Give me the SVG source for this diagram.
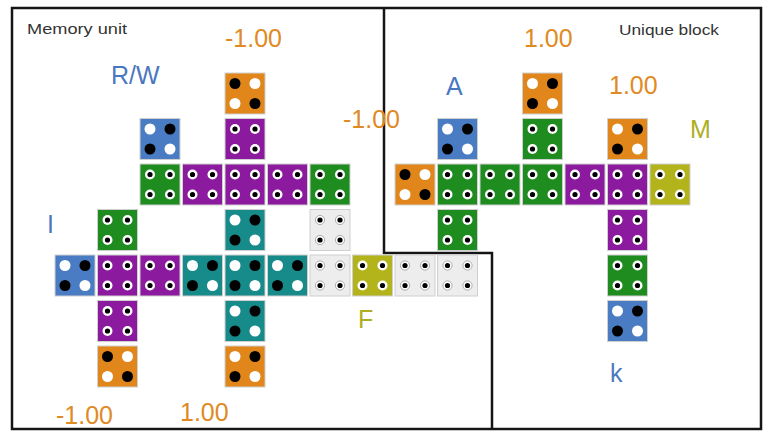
<svg xmlns="http://www.w3.org/2000/svg" xmlns:xlink="http://www.w3.org/1999/xlink" width="763" height="431" viewBox="0 0 763 431">
<style>
.t{stroke:#cfcfcf;stroke-width:1}
.or{fill:#E0861A}.bl{fill:#4A7CC4}.pu{fill:#8C1A9E}.gr{fill:#1F8C1F}.te{fill:#178A8A}.ye{fill:#B3B31C}.wh{fill:#EDEDED}
.lab{font-family:"Liberation Sans",Arial,sans-serif;font-size:25px}
.o{fill:#E08A24}.b{fill:#4A78C0}.y{fill:#AEAE22}
.cap{font-family:"Liberation Sans",Arial,sans-serif;font-size:15.5px;fill:#333}
.frame{fill:none;stroke:#151515;stroke-width:2.5}
</style>
<defs>
<g id="dA"><circle cx="-10" cy="-10" r="5.5" fill="#000"/><circle cx="10" cy="-10" r="5.5" fill="#fff"/><circle cx="-10" cy="10" r="5.5" fill="#fff"/><circle cx="10" cy="10" r="5.5" fill="#000"/></g>
<g id="dB"><circle cx="-10" cy="-10" r="5.5" fill="#fff"/><circle cx="10" cy="-10" r="5.5" fill="#000"/><circle cx="-10" cy="10" r="5.5" fill="#000"/><circle cx="10" cy="10" r="5.5" fill="#fff"/></g>
<g id="ring"><circle r="5" fill="#fff"/><circle r="2.6" fill="#000"/></g>
<g id="dR"><use href="#ring" x="-10" y="-10"/><use href="#ring" x="10" y="-10"/><use href="#ring" x="-10" y="10"/><use href="#ring" x="10" y="10"/></g>
<g id="wring"><circle r="4.6" fill="#fff" stroke="#9a9a9a" stroke-width="0.8"/><circle r="2.6" fill="#000"/></g>
<g id="dW"><use href="#wring" x="-10" y="-10"/><use href="#wring" x="10" y="-10"/><use href="#wring" x="-10" y="10"/><use href="#wring" x="10" y="10"/></g>
<rect id="tile" x="-20" y="-20.5" width="40" height="41"/>
</defs>

<g id="frames">
<rect class="frame" x="12" y="8" width="749" height="421"/>
<polyline class="frame" points="384,8 384,253 492,253 492,429"/>
</g>

<g id="memory-unit">
<g id="m-r0c4" transform="translate(245,93.5)"><use href="#tile" class="t or"/><use href="#dA"/></g>
<g id="m-r1c2" transform="translate(160,139)"><use href="#tile" class="t bl"/><use href="#dB"/></g>
<g id="m-r1c4" transform="translate(245,139)"><use href="#tile" class="t pu"/><use href="#dR"/></g>
<g id="m-r2c2" transform="translate(160,184.5)"><use href="#tile" class="t gr"/><use href="#dR"/></g>
<g id="m-r2c3" transform="translate(202.5,184.5)"><use href="#tile" class="t pu"/><use href="#dR"/></g>
<g id="m-r2c4" transform="translate(245,184.5)"><use href="#tile" class="t pu"/><use href="#dR"/></g>
<g id="m-r2c5" transform="translate(287.5,184.5)"><use href="#tile" class="t pu"/><use href="#dR"/></g>
<g id="m-r2c6" transform="translate(330,184.5)"><use href="#tile" class="t gr"/><use href="#dR"/></g>
<g id="m-r3c1" transform="translate(117.5,230)"><use href="#tile" class="t gr"/><use href="#dR"/></g>
<g id="m-r3c4" transform="translate(245,230)"><use href="#tile" class="t te"/><use href="#dB"/></g>
<g id="m-r3c6" transform="translate(330,230)"><use href="#tile" class="t wh"/><use href="#dW"/></g>
<g id="m-r4c0" transform="translate(75,275.5)"><use href="#tile" class="t bl"/><use href="#dB"/></g>
<g id="m-r4c1" transform="translate(117.5,275.5)"><use href="#tile" class="t pu"/><use href="#dR"/></g>
<g id="m-r4c2" transform="translate(160,275.5)"><use href="#tile" class="t pu"/><use href="#dR"/></g>
<g id="m-r4c3" transform="translate(202.5,275.5)"><use href="#tile" class="t te"/><use href="#dB"/></g>
<g id="m-r4c4" transform="translate(245,275.5)"><use href="#tile" class="t te"/><use href="#dB"/></g>
<g id="m-r4c5" transform="translate(287.5,275.5)"><use href="#tile" class="t te"/><use href="#dB"/></g>
<g id="m-r4c6" transform="translate(330,275.5)"><use href="#tile" class="t wh"/><use href="#dW"/></g>
<g id="m-r4c7" transform="translate(372.5,275.5)"><use href="#tile" class="t ye"/><use href="#dR"/></g>
<g id="m-r4c8" transform="translate(415,275.5)"><use href="#tile" class="t wh"/><use href="#dW"/></g>
<g id="m-r4c9" transform="translate(457.5,275.5)"><use href="#tile" class="t wh"/><use href="#dW"/></g>
<g id="m-r5c1" transform="translate(117.5,321)"><use href="#tile" class="t pu"/><use href="#dR"/></g>
<g id="m-r5c4" transform="translate(245,321)"><use href="#tile" class="t te"/><use href="#dB"/></g>
<g id="m-r6c1" transform="translate(117.5,366.5)"><use href="#tile" class="t or"/><use href="#dA"/></g>
<g id="m-r6c4" transform="translate(245,366.5)"><use href="#tile" class="t or"/><use href="#dB"/></g>
</g>

<g id="unique-block">
<g id="u-r0c11" transform="translate(542.5,93.5)"><use href="#tile" class="t or"/><use href="#dB"/></g>
<g id="u-r1c9" transform="translate(457.5,139)"><use href="#tile" class="t bl"/><use href="#dB"/></g>
<g id="u-r1c11" transform="translate(542.5,139)"><use href="#tile" class="t gr"/><use href="#dR"/></g>
<g id="u-r1c13" transform="translate(627.5,139)"><use href="#tile" class="t or"/><use href="#dB"/></g>
<g id="u-r2c8" transform="translate(415,184.5)"><use href="#tile" class="t or"/><use href="#dA"/></g>
<g id="u-r2c9" transform="translate(457.5,184.5)"><use href="#tile" class="t gr"/><use href="#dR"/></g>
<g id="u-r2c10" transform="translate(500,184.5)"><use href="#tile" class="t gr"/><use href="#dR"/></g>
<g id="u-r2c11" transform="translate(542.5,184.5)"><use href="#tile" class="t gr"/><use href="#dR"/></g>
<g id="u-r2c12" transform="translate(585,184.5)"><use href="#tile" class="t pu"/><use href="#dR"/></g>
<g id="u-r2c13" transform="translate(627.5,184.5)"><use href="#tile" class="t pu"/><use href="#dR"/></g>
<g id="u-r2c14" transform="translate(670,184.5)"><use href="#tile" class="t ye"/><use href="#dR"/></g>
<g id="u-r3c9" transform="translate(457.5,230)"><use href="#tile" class="t gr"/><use href="#dR"/></g>
<g id="u-r3c13" transform="translate(627.5,230)"><use href="#tile" class="t pu"/><use href="#dR"/></g>
<g id="u-r4c13" transform="translate(627.5,275.5)"><use href="#tile" class="t gr"/><use href="#dR"/></g>
<g id="u-r5c13" transform="translate(627.5,321)"><use href="#tile" class="t bl"/><use href="#dB"/></g>
</g>

<g id="labels">
<text class="cap" x="27" y="34" textLength="100" lengthAdjust="spacingAndGlyphs">Memory unit</text>
<text class="cap" x="619" y="35" textLength="100" lengthAdjust="spacingAndGlyphs">Unique block</text>
<text class="lab o" x="225" y="47">-1.00</text>
<text class="lab b" x="111" y="84">R/W</text>
<text class="lab o" x="343" y="128">-1.00</text>
<text class="lab b" x="47" y="233">I</text>
<text class="lab y" x="358" y="328">F</text>
<text class="lab o" x="56" y="424">-1.00</text>
<text class="lab o" x="180" y="421">1.00</text>
<text class="lab o" x="524" y="47">1.00</text>
<text class="lab b" x="446" y="95">A</text>
<text class="lab o" x="609" y="94">1.00</text>
<text class="lab y" x="690" y="138">M</text>
<text class="lab b" x="610" y="382">k</text>
</g>
</svg>
